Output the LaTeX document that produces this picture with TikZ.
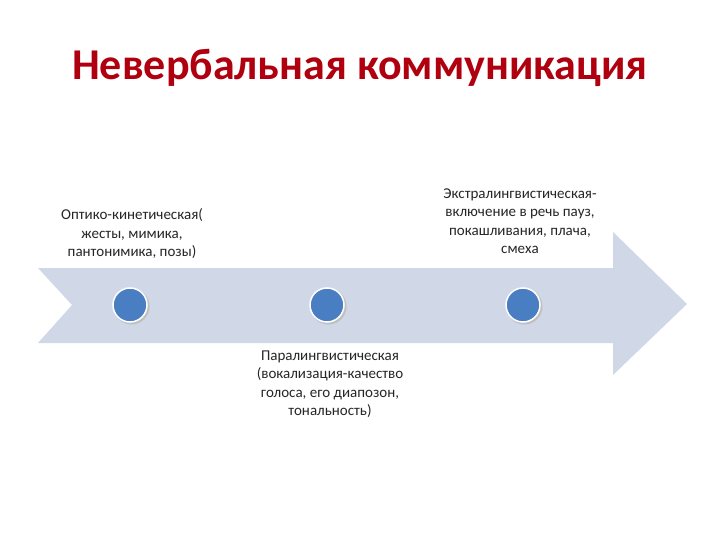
\documentclass[tikz,border=0pt]{standalone}
\usepackage{fontspec}
\setmainfont{Carlito}
\begin{document}
\begin{tikzpicture}[x=1pt,y=-1pt,
  lbl/.style={align=center,font=\fontsize{15}{18.5}\selectfont,text=black!85},
  dot/.style={circle,minimum size=34pt,inner sep=0pt,draw=white,line width=1.5pt}]
\useasboundingbox (0,0) rectangle (720,540);
\fill[white] (0,0) rectangle (720,540);
\definecolor{arr}{HTML}{D0D7E6}
\definecolor{dotc}{HTML}{4A7EC2}
\definecolor{ttl}{HTML}{B00010}
\node[font=\fontsize{44}{48}\selectfont\bfseries,text=ttl] (t) at (360,68) {Невербальная коммуникация};
\fill[arr] (38,268) -- (613,268) -- (613,232) -- (687,304) -- (613,375) -- (613,343) -- (38,343) -- (72,305) -- cycle;
\foreach \n/\x in {a/130,b/327,c/523}{
  \fill[black!25] (\x+1.5,306.5) circle (18);
  \node[dot,fill=dotc] (\n) at (\x,305) {};}
\node[lbl] (la) at (132,234) {Оптико-кинетическая(\\жесты, мимика,\\пантонимика, позы)};
\node[lbl] (lc) at (520,221) {Экстралингвистическая-\\включение в речь пауз,\\покашливания, плача,\\смеха};
\node[lbl] (lb) at (330,384) {Паралингвистическая\\(вокализация-качество\\голоса, его диапозон,\\тональность)};
\end{tikzpicture}
\end{document}
